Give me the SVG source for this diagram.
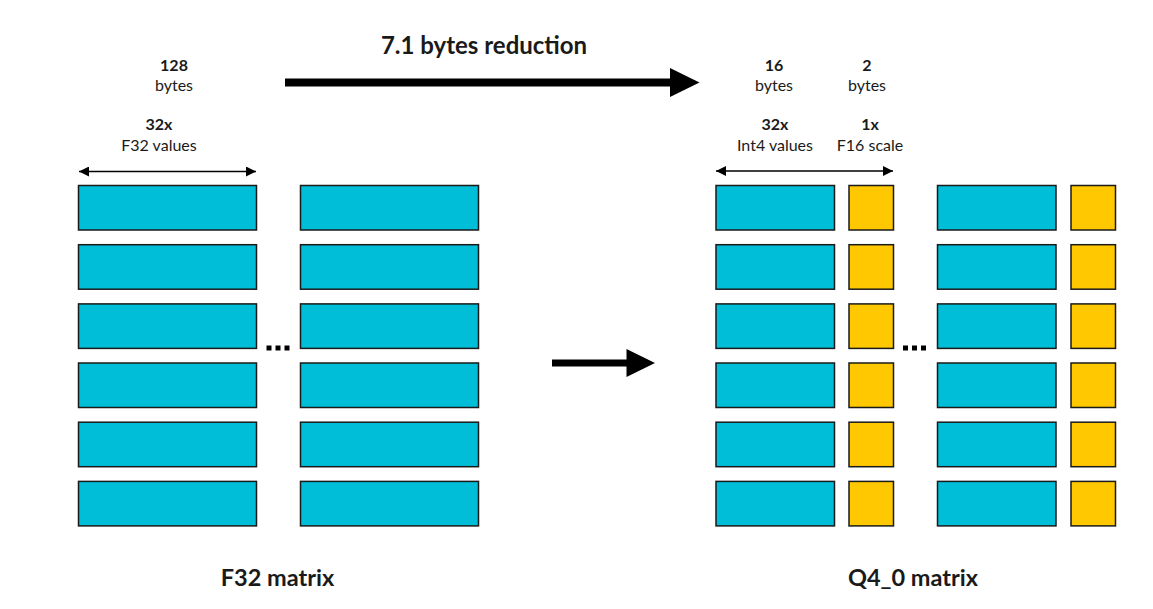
<svg xmlns="http://www.w3.org/2000/svg" width="1153" height="609" viewBox="0 0 1153 609">
<style>
.b{fill:#00BED8;stroke:#1a1a1a;stroke-width:1.5}
.y{fill:#FFC800;stroke:#1a1a1a;stroke-width:1.5}
.t{font-family:Lato,"Liberation Sans",sans-serif;fill:#1a1a1a;text-anchor:middle}
.s{font-size:16px}
.bd{font-weight:bold}
.dot{fill:#000}
</style>
<defs>
<marker id="ah" viewBox="0 0 10 10" refX="10" refY="5" markerWidth="10" markerHeight="10" markerUnits="userSpaceOnUse" orient="auto-start-reverse">
<path d="M0,0 L10,5 L0,10 z" fill="#000"/>
</marker>
</defs>
<rect width="1153" height="609" fill="#fff"/>
<g id="titles">
<text class="t bd" x="484" y="54" font-size="24">7.1 bytes reduction</text>
<text class="t bd" x="277.5" y="586" font-size="23.5">F32 matrix</text>
<text class="t bd" x="913" y="586" font-size="23.5">Q4_0 matrix</text>
</g>
<g id="labels-left">
<text class="t s bd" x="174" y="71">128</text>
<text class="t s" x="174" y="91">bytes</text>
<text class="t s bd" x="159" y="129.5">32x</text>
<text class="t s" x="159" y="150.5">F32 values</text>
</g>
<g id="labels-right">
<text class="t s bd" x="774" y="71">16</text>
<text class="t s" x="774" y="91">bytes</text>
<text class="t s bd" x="867" y="71">2</text>
<text class="t s" x="867" y="91">bytes</text>
<text class="t s bd" x="775" y="129.5">32x</text>
<text class="t s" x="775" y="150.5">Int4 values</text>
<text class="t s bd" x="870" y="129.5">1x</text>
<text class="t s" x="870" y="150.5">F16 scale</text>
</g>
<g id="connectors">
<line x1="79" y1="171.5" x2="256" y2="171.5" stroke="#000" stroke-width="1.3" marker-start="url(#ah)" marker-end="url(#ah)"/>
<line x1="716" y1="171" x2="893" y2="171" stroke="#000" stroke-width="1.3" marker-start="url(#ah)" marker-end="url(#ah)"/>
<path d="M285,82.5 H672" stroke="#000" stroke-width="8" fill="none"/>
<path d="M670,68 L699.5,82.5 L670,97 z" fill="#000"/>
<path d="M552,363 H628" stroke="#000" stroke-width="7" fill="none"/>
<path d="M626.5,349 L655,363 L626.5,377 z" fill="#000"/>
</g>
<g id="f32-matrix">
<rect class="b" x="78.5" y="185.5" width="178" height="44.5"/>
<rect class="b" x="78.5" y="244.7" width="178" height="44.5"/>
<rect class="b" x="78.5" y="303.9" width="178" height="44.5"/>
<rect class="b" x="78.5" y="363" width="178" height="44.5"/>
<rect class="b" x="78.5" y="422.2" width="178" height="44.5"/>
<rect class="b" x="78.5" y="481.4" width="178" height="44.5"/>
<rect class="b" x="300.5" y="185.5" width="178" height="44.5"/>
<rect class="b" x="300.5" y="244.7" width="178" height="44.5"/>
<rect class="b" x="300.5" y="303.9" width="178" height="44.5"/>
<rect class="b" x="300.5" y="363" width="178" height="44.5"/>
<rect class="b" x="300.5" y="422.2" width="178" height="44.5"/>
<rect class="b" x="300.5" y="481.4" width="178" height="44.5"/>
<rect class="dot" x="266.5" y="345.5" width="5" height="5"/>
<rect class="dot" x="275.5" y="345.5" width="5" height="5"/>
<rect class="dot" x="284.5" y="345.5" width="5" height="5"/>
</g>
<g id="q4-matrix">
<rect class="b" x="716" y="185.5" width="118.5" height="44.5"/>
<rect class="b" x="716" y="244.7" width="118.5" height="44.5"/>
<rect class="b" x="716" y="303.9" width="118.5" height="44.5"/>
<rect class="b" x="716" y="363" width="118.5" height="44.5"/>
<rect class="b" x="716" y="422.2" width="118.5" height="44.5"/>
<rect class="b" x="716" y="481.4" width="118.5" height="44.5"/>
<rect class="y" x="849" y="185.5" width="44.5" height="44.5"/>
<rect class="y" x="849" y="244.7" width="44.5" height="44.5"/>
<rect class="y" x="849" y="303.9" width="44.5" height="44.5"/>
<rect class="y" x="849" y="363" width="44.5" height="44.5"/>
<rect class="y" x="849" y="422.2" width="44.5" height="44.5"/>
<rect class="y" x="849" y="481.4" width="44.5" height="44.5"/>
<rect class="b" x="937.5" y="185.5" width="118.5" height="44.5"/>
<rect class="b" x="937.5" y="244.7" width="118.5" height="44.5"/>
<rect class="b" x="937.5" y="303.9" width="118.5" height="44.5"/>
<rect class="b" x="937.5" y="363" width="118.5" height="44.5"/>
<rect class="b" x="937.5" y="422.2" width="118.5" height="44.5"/>
<rect class="b" x="937.5" y="481.4" width="118.5" height="44.5"/>
<rect class="y" x="1071" y="185.5" width="44.5" height="44.5"/>
<rect class="y" x="1071" y="244.7" width="44.5" height="44.5"/>
<rect class="y" x="1071" y="303.9" width="44.5" height="44.5"/>
<rect class="y" x="1071" y="363" width="44.5" height="44.5"/>
<rect class="y" x="1071" y="422.2" width="44.5" height="44.5"/>
<rect class="y" x="1071" y="481.4" width="44.5" height="44.5"/>
<rect class="dot" x="903" y="345.5" width="5" height="5"/>
<rect class="dot" x="912" y="345.5" width="5" height="5"/>
<rect class="dot" x="921" y="345.5" width="5" height="5"/>
</g>
</svg>
